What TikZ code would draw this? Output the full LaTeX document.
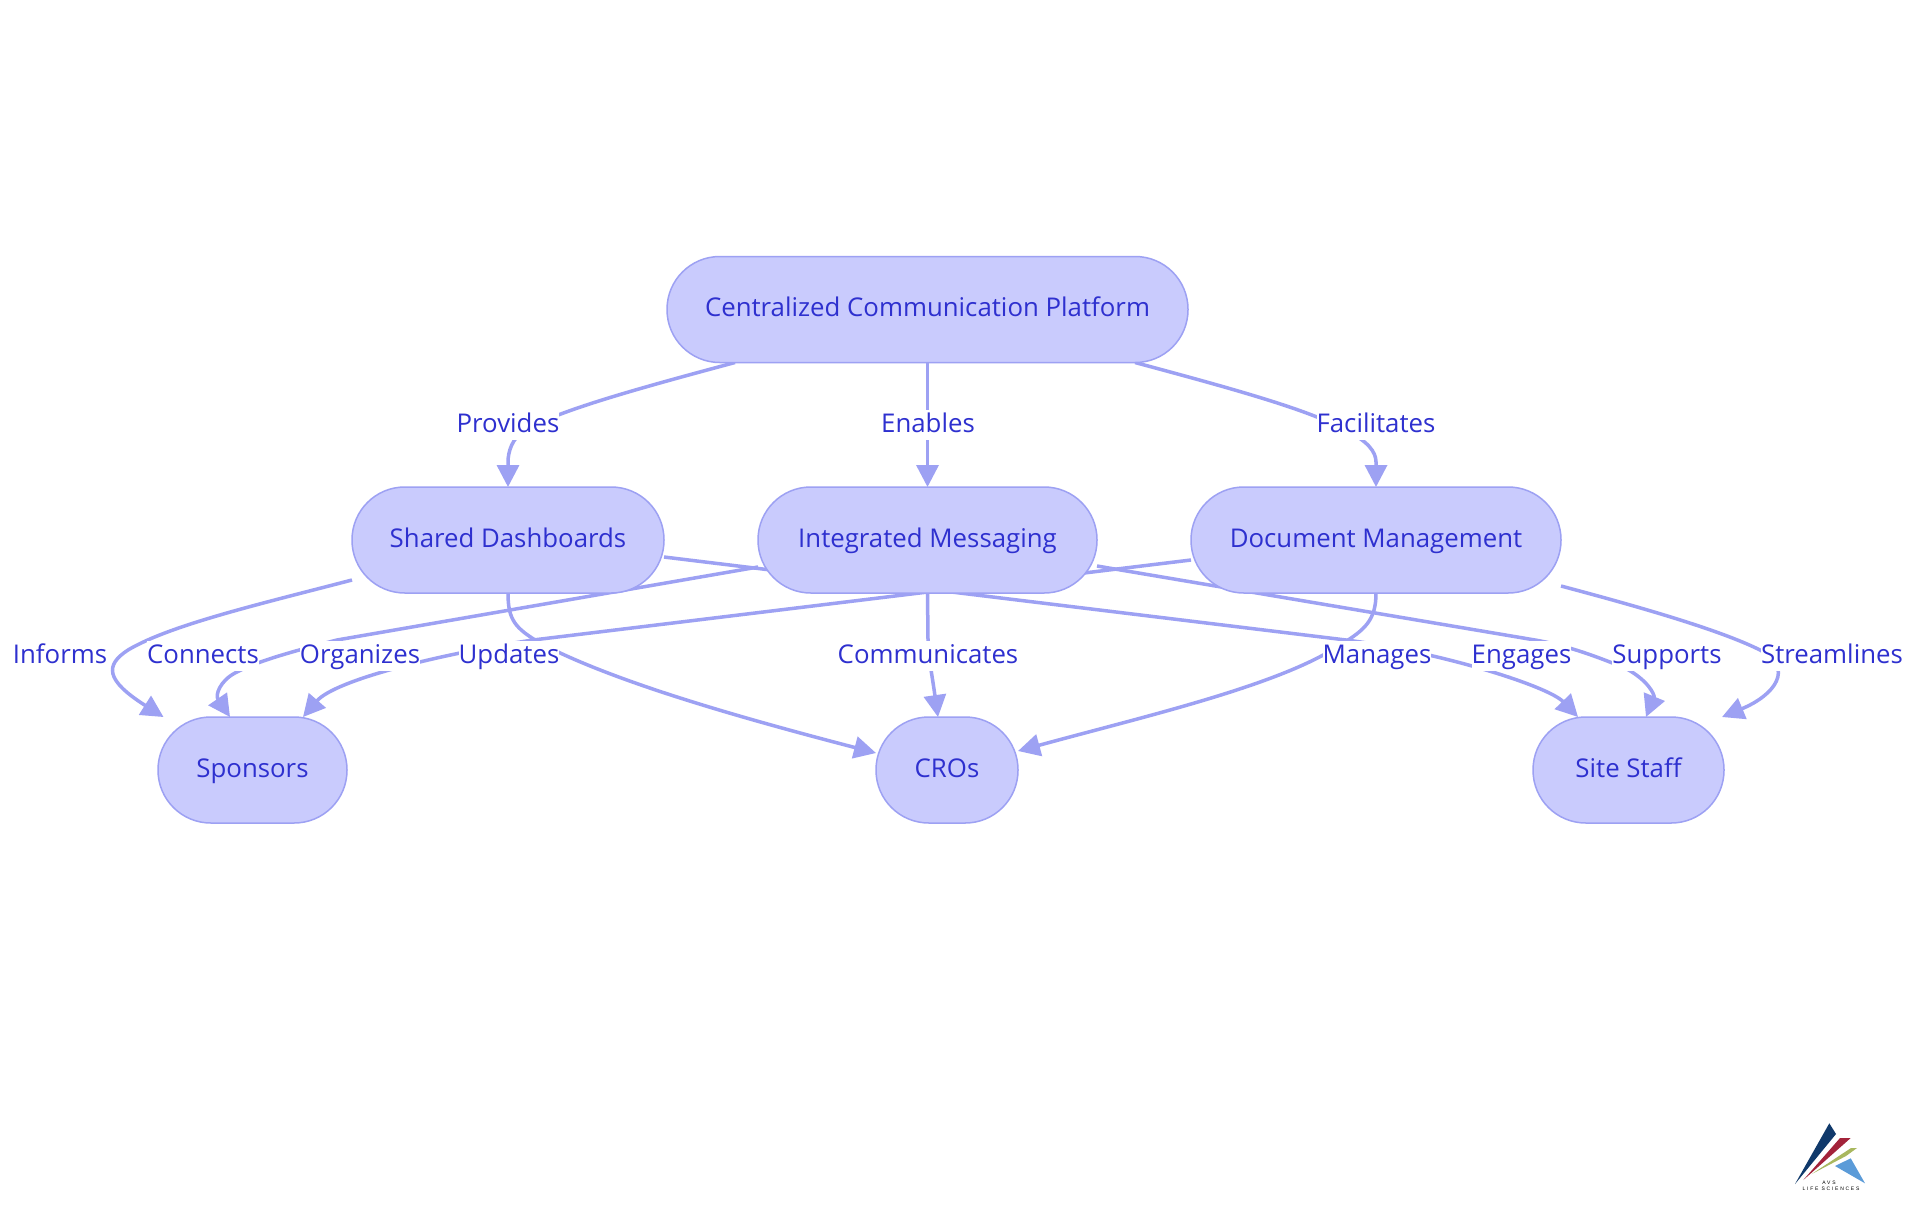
\documentclass[tikz,border=0pt]{standalone}
\usepackage{fontspec}
\setmainfont{Open Sans}
\newfontfamily\logofont[LetterSpace=35]{Liberation Sans}
\usetikzlibrary{arrows.meta,calc}
\definecolor{edgecol}{HTML}{9DA1F3}
\definecolor{boxfill}{HTML}{C9CBFD}
\definecolor{inkcol}{HTML}{2E30CF}
\definecolor{logonavy}{HTML}{10396B}
\definecolor{logored}{HTML}{A3233A}
\definecolor{logogreen}{HTML}{A9B85F}
\definecolor{logoblue}{HTML}{5B9BD8}
\pgfdeclarelayer{edgelayer}
\pgfsetlayers{edgelayer,main}
\tikzset{
  box/.style={draw=edgecol,fill=boxfill,line width=0.75pt,rounded corners=26.4pt,
    minimum height=53pt,inner sep=0pt,outer sep=0pt,text=inkcol,
    font=\fontsize{12.9pt}{15pt}\selectfont,text height=10pt,text depth=3pt},
  lab/.style={fill=white,inner sep=0pt,outer sep=0pt,text=inkcol,
    font=\fontsize{12.9pt}{15pt}\selectfont,text height=11pt,text depth=4pt},
  edge/.style={draw=edgecol,line width=1.75pt,-{Triangle[length=11pt,width=11pt]}},
  logotext/.style={inner sep=0pt,text=black,font=\logofont\fontsize{2.5pt}{3pt}\selectfont},
}
\begin{document}
\begin{tikzpicture}[x=0.5pt,y=-0.5pt]
\useasboundingbox (0,0) rectangle (1920,1215);
% nodes
\node[box,minimum width=260.5pt] (top) at (927.5,309.5) {Centralized Communication Platform};
\node[box,minimum width=156pt] (shared) at (508,540) {Shared Dashboards};
\node[box,minimum width=169.5pt] (integ) at (927.5,540) {Integrated Messaging};
\node[box,minimum width=185pt] (docm) at (1376,540) {Document Management};
\node[box,minimum width=94.5pt] (spons) at (252.5,770) {Sponsors};
\node[box,minimum width=71pt] (cros) at (947,770) {CROs};
\node[box,minimum width=95.5pt] (site) at (1628.5,770) {Site Staff};
% labels
\node[lab] (lProv) at (508,425) {Provides};
\node[lab] (lEnab) at (928,425) {Enables};
\node[lab] (lFaci) at (1376,425) {Facilitates};
\node[lab] (lInfo) at (60,656) {Informs};
\node[lab] (lConn) at (203,656) {Connects};
\node[lab] (lOrga) at (360,656) {Organizes};
\node[lab] (lUpda) at (509,656) {Updates};
\node[lab] (lComm) at (928,656) {Communicates};
\node[lab] (lMana) at (1377,656) {Manages};
\node[lab] (lEnga) at (1521.5,656) {Engages};
\node[lab] (lSupp) at (1667,656) {Supports};
\node[lab] (lStre) at (1832,656) {Streamlines};
% connectors, behind nodes and labels
\begin{pgfonlayer}{edgelayer}
\fill[white] (0,0) rectangle (1920,1215);
\draw[edge] ($(top.south)+(-192.5,0)$) .. controls (640,388) and (560,410) .. (525,430)
  .. controls (512,438) and (508,452) .. (508,462) -- (shared.north);
\draw[edge] (top.south) -- (integ.north);
\draw[edge] ($(top.south)+(207.5,0)$) .. controls (1230,388) and (1310,410) .. (1345,430)
  .. controls (1368,441) and (1376,452) .. (1376,462) -- (docm.north);
% Shared Dashboards
\draw[edge] ($(shared.west)+(0,40)$) .. controls (260,604) and (170,625) .. (128,650)
  .. controls (105,665) and (105,680) .. ($(spons.north)+(-89,0)$);
\draw[edge] (shared.south) .. controls (508,620) and (515,628) .. (540,643)
  .. controls (610,680) and (730,715) .. ($(cros.west)+(0,-17)$);
\draw[edge] ($(shared.east)+(0,17)$) -- (1346,640)
  .. controls (1440,652) and (1548,686) .. ($(site.north)+(-50.5,0)$);
% Integrated Messaging
\draw[edge] ($(integ.west)+(0,27)$) -- (337,640)
  .. controls (290,652) and (255,662) .. (235,673)
  .. controls (220,681) and (215,695) .. ($(spons.north)+(-22.5,0)$);
\draw[edge] (integ.south) -- (928,640) .. controls (928,655) and (931,668) .. ($(cros.north)+(-9,0)$);
\draw[edge] ($(integ.east)+(0,26)$) -- (1535,640)
  .. controls (1570,646) and (1600,658) .. (1625,668)
  .. controls (1648,680) and (1655,695) .. ($(site.north)+(17.5,0)$);
% Document Management
\draw[edge] ($(docm.west)+(0,20)$) -- (533,640)
  .. controls (440,654) and (335,680) .. ($(spons.north)+(50.5,0)$);
\draw[edge] (docm.south) .. controls (1376,620) and (1365,630) .. (1340,645)
  .. controls (1280,685) and (1150,715) .. ($(cros.east)+(0,-19)$);
\draw[edge] ($(docm.east)+(0,46)$) .. controls (1640,607) and (1720,630) .. (1760,650)
  .. controls (1795,668) and (1775,695) .. ($(site.north)+(93.5,0)$);
\end{pgfonlayer}
% logo
\fill[logonavy] (1795,1184) -- (1829.3,1123.3) -- (1836,1134) -- cycle;
\fill[logored] (1803.3,1180) -- (1840,1138) -- (1850.7,1138) -- cycle;
\fill[logogreen] (1811.7,1174) -- (1851,1148) -- (1857,1148) -- (1846,1156) -- cycle;
\fill[logoblue] (1835,1166) -- (1850.7,1158.3) -- (1865,1183.3) -- cycle;
\node[logotext] (logoA) at (1829,1182.5) {AVS};
\node[logotext] (logoB) at (1831,1189) {LIFE SCIENCES};
\end{tikzpicture}
\end{document}
